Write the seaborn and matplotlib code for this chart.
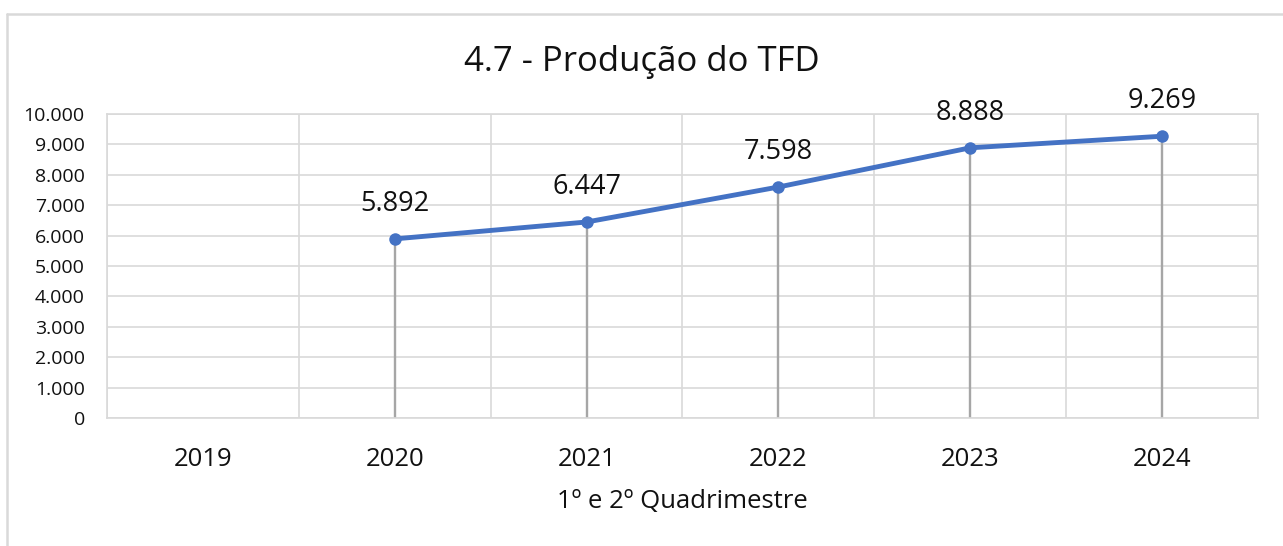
import numpy as np
import pandas as pd
import matplotlib
matplotlib.use("Agg")
import matplotlib.pyplot as plt
import seaborn as sns
from matplotlib.lines import Line2D
from matplotlib.ticker import FixedLocator, FuncFormatter

anos = ["2019", "2020", "2021", "2022", "2023", "2024"]
producao = [np.nan, 5892, 6447, 7598, 8888, 9269]
rotulos = ["", "5.892", "6.447", "7.598", "8.888", "9.269"]

titulo = "4.7 - Produção do TFD"
eixo_x = "1º e 2º Quadrimestre"

AZUL = "#4472C4"
GRADE = "#D9D9D9"
QUEDA = "#A6A6A6"

sns.set_theme(style="white")
plt.rcParams["font.family"] = ["Open Sans", "DejaVu Sans"]

df = pd.DataFrame({"pos": np.arange(len(anos)), "valor": producao})

fig = plt.figure(figsize=(12.83, 5.46), dpi=100)
ax = fig.add_axes([107 / 1283, 1 - 418 / 546, (1258 - 107) / 1283, (418 - 114) / 546])

# drop lines from each point down to the axis
ok = df.dropna()
ax.vlines(ok["pos"], 0, ok["valor"], color=QUEDA, lw=1.7, zorder=2)

sns.lineplot(data=df, x="pos", y="valor", ax=ax, color=AZUL, lw=3.5,
             marker="o", markersize=9, markeredgewidth=0, zorder=3)

for p, v, r in zip(df["pos"], df["valor"], rotulos):
    if np.isnan(v):
        continue
    ax.annotate(r, (p, v), xytext=(0, 15), textcoords="offset points",
                ha="center", va="bottom", fontsize=19.5, color="#111111")

ax.set_xlim(-0.5, len(anos) - 0.5)
ax.set_ylim(0, 10000)
ax.set_xticks(np.arange(len(anos)))
ax.set_xticklabels(anos)
ax.xaxis.set_minor_locator(FixedLocator(np.arange(-0.5, len(anos), 1.0)))
ax.set_yticks(np.arange(0, 10001, 1000))
ax.yaxis.set_major_formatter(FuncFormatter(lambda v, _: f"{int(v):,}".replace(",", ".")))

ax.grid(False)
ax.grid(axis="y", which="major", color=GRADE, lw=1.2)
ax.grid(axis="x", which="minor", color=GRADE, lw=1.2)
for s in ax.spines.values():
    s.set_color(GRADE)
    s.set_linewidth(1.2)

ax.tick_params(axis="both", which="both", length=0)
ax.tick_params(axis="y", labelsize=14, pad=16, labelcolor="#111111")
ax.tick_params(axis="x", labelsize=18.5, pad=21, labelcolor="#111111")
ax.set_ylabel("")
ax.set_xlabel(eixo_x, fontsize=18.5, labelpad=12, color="#111111")

fig.text(0.5, 1 - 62 / 546, titulo, ha="center", va="center", fontsize=25, color="#111111")

# chart frame (left and top edges visible)
fig.add_artist(Line2D([7 / 1283, 7 / 1283], [0, 1 - 14 / 546], transform=fig.transFigure,
                      color=GRADE, lw=1.8))
fig.add_artist(Line2D([7 / 1283, 1], [1 - 14 / 546, 1 - 14 / 546], transform=fig.transFigure,
                      color=GRADE, lw=1.8))

fig.savefig("out.png", dpi=100, facecolor="white")
